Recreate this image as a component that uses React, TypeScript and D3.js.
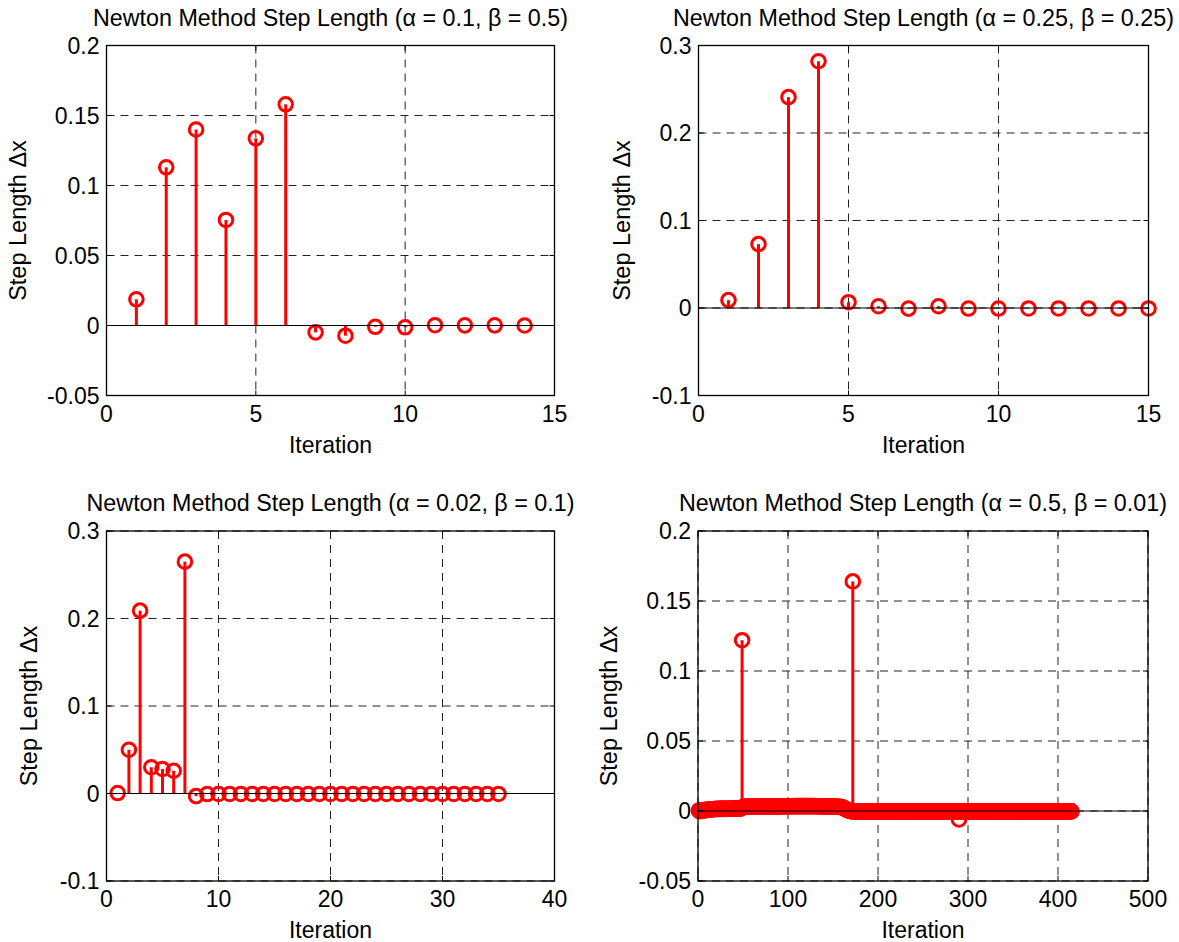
import React from 'react';
import * as d3 from 'd3';

// ---------- DATA ----------
const titles = [
  'Newton Method Step Length (α = 0.1, β = 0.5)',
  'Newton Method Step Length (α = 0.25, β = 0.25)',
  'Newton Method Step Length (α = 0.02, β = 0.1)',
  'Newton Method Step Length (α = 0.5, β = 0.01)',
];

const stepLength1 = [0.0187, 0.113, 0.140, 0.0754, 0.1337, 0.158, -0.0049, -0.0073, -0.0009, -0.0013, 0.0002, 0.0001, 0.0001, 0.0];

const stepLength2 = [0.009, 0.073, 0.241, 0.282, 0.0066, 0.002, -0.0007, 0.002, -0.0006, -0.0006, -0.0005, -0.0005, -0.0005, -0.0005, -0.0005];

const stepLength3 = [
  0.0005, 0.050, 0.209, 0.030, 0.028, 0.026, 0.265, -0.003, -0.0006, -0.0005,
  -0.0005, -0.0005, -0.0005, -0.0005, -0.0005, -0.0005, -0.0005, -0.0005, -0.0005, -0.0005,
  -0.0005, -0.0005, -0.0005, -0.0005, -0.0005, -0.0005, -0.0005, -0.0005, -0.0005, -0.0005,
  -0.0005, -0.0005, -0.0005, -0.0005, -0.0005,
];

// Panel 4: 415 iterations, read as segments of the dense band plus the isolated stems
const band4a = [
  0.0004, -0.0002, 0.0006, 0.0003, 0.0005, 0.0002, 0.0007, 0.0006, 0.0008, 0.0007,
  0.0009, 0.0010, 0.0011, 0.0012, 0.0012, 0.0013, 0.0013, 0.0014, 0.0014, 0.0014,
  0.0015, 0.0014, 0.0015, 0.0015, 0.0016, 0.0015, 0.0015, 0.0016, 0.0015, 0.0016,
  0.0016, 0.0015, 0.0016, 0.0016, 0.0017, 0.0016, 0.0016, 0.0017, 0.0016, 0.0017,
  0.0017, 0.0016, 0.0017, 0.0017, 0.0018, 0.0017, 0.0018, 0.0018,
];
const spike4a = 0.122;
const band4b = [
  0.0028, 0.0029, 0.0030, 0.0030, 0.0031, 0.0030, 0.0030, 0.0031, 0.0030, 0.0031,
  0.0030, 0.0031, 0.0031, 0.0030, 0.0031, 0.0032, 0.0031, 0.0031, 0.0032, 0.0031,
  0.0032, 0.0031, 0.0032, 0.0032, 0.0031, 0.0032, 0.0032, 0.0033, 0.0032, 0.0032,
  0.0033, 0.0032, 0.0033, 0.0032, 0.0033, 0.0033, 0.0032, 0.0033, 0.0033, 0.0033,
  0.0033, 0.0034, 0.0033, 0.0033, 0.0034, 0.0033, 0.0034, 0.0034, 0.0033, 0.0034,
  0.0034, 0.0034, 0.0033, 0.0034, 0.0034, 0.0035, 0.0034, 0.0034, 0.0035, 0.0034,
  0.0035, 0.0034, 0.0035, 0.0035, 0.0034, 0.0035, 0.0035, 0.0035, 0.0034, 0.0035,
  0.0035, 0.0035, 0.0034, 0.0035, 0.0035, 0.0034, 0.0035, 0.0034, 0.0035, 0.0034,
  0.0034, 0.0035, 0.0034, 0.0034, 0.0033, 0.0034, 0.0034, 0.0033, 0.0034, 0.0033,
  0.0033, 0.0033, 0.0032, 0.0033, 0.0032, 0.0032, 0.0032, 0.0031, 0.0032, 0.0031,
  0.0031, 0.0031, 0.0030, 0.0031, 0.0030, 0.0030, 0.0030, 0.0029, 0.0030, 0.0029,
];
const band4c = [0.0027, 0.0024, 0.0021, 0.0018, 0.0014, 0.0010, 0.0007, 0.0004, 0.0002, 0.0000, -0.0001, -0.0002];
const spike4b = 0.164;
const band4d = [
  -0.0003, -0.0003, -0.0004, -0.0003, -0.0003, -0.0003, -0.0004, -0.0003, -0.0003, -0.0003,
  -0.0003, -0.0004, -0.0003, -0.0003, -0.0003, -0.0003, -0.0004, -0.0003, -0.0003, -0.0003,
  -0.0003, -0.0003, -0.0004, -0.0003, -0.0003, -0.0003, -0.0003, -0.0004, -0.0003, -0.0003,
  -0.0003, -0.0003, -0.0003, -0.0004, -0.0003, -0.0003, -0.0003, -0.0003, -0.0004, -0.0003,
  -0.0003, -0.0003, -0.0003, -0.0003, -0.0004, -0.0003, -0.0003, -0.0003, -0.0003, -0.0003,
  -0.0004, -0.0003, -0.0003, -0.0003, -0.0003, -0.0003, -0.0004, -0.0003, -0.0003, -0.0003,
  -0.0003, -0.0003, -0.0003, -0.0004, -0.0003, -0.0003, -0.0003, -0.0003, -0.0003, -0.0004,
  -0.0003, -0.0003, -0.0003, -0.0003, -0.0003, -0.0003, -0.0004, -0.0003, -0.0003, -0.0003,
  -0.0003, -0.0003, -0.0003, -0.0003, -0.0004, -0.0003, -0.0003, -0.0003, -0.0003, -0.0003,
  -0.0003, -0.0004, -0.0003, -0.0003, -0.0003, -0.0003, -0.0003, -0.0003, -0.0004, -0.0003,
  -0.0003, -0.0003, -0.0003, -0.0003, -0.0003, -0.0004, -0.0003, -0.0003, -0.0003, -0.0003,
  -0.0003, -0.0003, -0.0004, -0.0003, -0.0003, -0.0003, -0.0003,
];
const dip4 = -0.006;
const band4e = [
  -0.0003, -0.0003, -0.0003, -0.0004, -0.0003, -0.0003, -0.0003, -0.0003, -0.0003, -0.0004,
  -0.0003, -0.0003, -0.0003, -0.0003, -0.0003, -0.0003, -0.0004, -0.0003, -0.0003, -0.0003,
  -0.0003, -0.0003, -0.0003, -0.0003, -0.0004, -0.0003, -0.0003, -0.0003, -0.0003, -0.0003,
  -0.0003, -0.0004, -0.0003, -0.0003, -0.0003, -0.0003, -0.0003, -0.0003, -0.0003, -0.0004,
  -0.0003, -0.0003, -0.0003, -0.0003, -0.0003, -0.0003, -0.0004, -0.0003, -0.0003, -0.0003,
  -0.0003, -0.0003, -0.0003, -0.0004, -0.0003, -0.0003, -0.0003, -0.0003, -0.0003, -0.0003,
  -0.0004, -0.0003, -0.0003, -0.0003, -0.0003, -0.0003, -0.0003, -0.0003, -0.0004, -0.0003,
  -0.0003, -0.0003, -0.0003, -0.0003, -0.0003, -0.0004, -0.0003, -0.0003, -0.0003, -0.0003,
  -0.0003, -0.0003, -0.0004, -0.0003, -0.0003, -0.0003, -0.0003, -0.0003, -0.0003, -0.0003,
  -0.0004, -0.0003, -0.0003, -0.0003, -0.0003, -0.0003, -0.0003, -0.0004, -0.0003, -0.0003,
  -0.0003, -0.0003, -0.0003, -0.0003, -0.0004, -0.0003, -0.0003, -0.0003, -0.0003, -0.0003,
  -0.0003, -0.0004, -0.0003, -0.0003, -0.0003, -0.0003, -0.0003, -0.0003, -0.0003, -0.0004,
  -0.0003, -0.0003, -0.0003, -0.0003, -0.0003,
];
const stepLength4 = [...band4a, spike4a, ...band4b, ...band4c, spike4b, ...band4d, dip4, ...band4e];

const xTicks1 = [0, 5, 10, 15];
const xTicks2 = [0, 5, 10, 15];
const xTicks3 = [0, 10, 20, 30, 40];
const xTicks4 = [0, 100, 200, 300, 400, 500];
const yTicksA = [-0.05, 0, 0.05, 0.1, 0.15, 0.2];
const yTicksB = [-0.1, 0, 0.1, 0.2, 0.3];

const xLabel = 'Iteration';
const yLabel = 'Step Length Δx';

// ---------- DRAWING ----------
const FONT = '"Liberation Sans", Arial, Helvetica, sans-serif';
const RED = '#ff0000';

type PanelProps = {
  title: string;
  values: number[];
  xTicks: number[];
  yTicks: number[];
  left: number;
  top: number;
  width: number;
  height: number;
  ylabelOffset: number;
};

function StemPanel({ title, values, xTicks, yTicks, left, top, width, height, ylabelOffset }: PanelProps) {
  const x = d3.scaleLinear().domain(d3.extent(xTicks) as [number, number]).range([left, left + width]);
  const y = d3.scaleLinear().domain(d3.extent(yTicks) as [number, number]).range([top + height, top]);
  const y0 = y(0);
  const bottom = top + height;
  const right = left + width;
  const fmt = (v: number) => String(Number(v.toFixed(3)));
  const tickLen = 5;
  return (
    <g>
      {/* grid */}
      {xTicks.map((t) => (
        <line key={'gx' + t} x1={x(t)} x2={x(t)} y1={top} y2={bottom} stroke="#222" strokeWidth={1} strokeDasharray="8,6" />
      ))}
      {yTicks.map((t) => (
        <line key={'gy' + t} x1={left} x2={right} y1={y(t)} y2={y(t)} stroke="#222" strokeWidth={1} strokeDasharray="8,6" />
      ))}
      {/* stems */}
      {values.map((v, i) => (
        <line key={'s' + i} x1={x(i + 1)} x2={x(i + 1)} y1={y0} y2={y(v)} stroke={RED} strokeWidth={3} />
      ))}
      {values.map((v, i) => (
        <circle key={'c' + i} cx={x(i + 1)} cy={y(v)} r={6.8} fill="none" stroke={RED} strokeWidth={3} />
      ))}
      {/* baseline */}
      <line x1={left} x2={right} y1={y0} y2={y0} stroke="#000" strokeWidth={1.2} />
      {/* ticks */}
      {xTicks.map((t) => (
        <g key={'tx' + t}>
          <line x1={x(t)} x2={x(t)} y1={bottom} y2={bottom - tickLen} stroke="#000" strokeWidth={1} />
          <line x1={x(t)} x2={x(t)} y1={top} y2={top + tickLen} stroke="#000" strokeWidth={1} />
        </g>
      ))}
      {yTicks.map((t) => (
        <g key={'ty' + t}>
          <line x1={left} x2={left + tickLen} y1={y(t)} y2={y(t)} stroke="#000" strokeWidth={1} />
          <line x1={right} x2={right - tickLen} y1={y(t)} y2={y(t)} stroke="#000" strokeWidth={1} />
        </g>
      ))}
      {/* box */}
      <rect x={left} y={top} width={width} height={height} fill="none" stroke="#000" strokeWidth={1.3} />
      {/* tick labels */}
      {xTicks.map((t) => (
        <text key={'lx' + t} x={x(t)} y={bottom + 26} textAnchor="middle" fontSize={23} fontFamily={FONT} fill="#000">
          {fmt(t)}
        </text>
      ))}
      {yTicks.map((t) => (
        <text key={'ly' + t} x={left - 7} y={y(t)} dy="0.36em" textAnchor="end" fontSize={23} fontFamily={FONT} fill="#000">
          {fmt(t)}
        </text>
      ))}
      {/* labels */}
      <text x={(left + right) / 2} y={bottom + 57} textAnchor="middle" fontSize={23} fontFamily={FONT} fill="#000">
        {xLabel}
      </text>
      <text
        transform={`translate(${left - ylabelOffset},${(top + bottom) / 2}) rotate(-90)`}
        textAnchor="middle"
        fontSize={23.5}
        fontFamily={FONT}
        fill="#000"
      >
        {yLabel}
      </text>
      <text x={(left + right) / 2} y={top - 20} textAnchor="middle" fontSize={23.3} fontFamily={FONT} fill="#000">
        {title}
      </text>
    </g>
  );
}

export default function App() {
  return (
    <svg
      width={1179}
      height={942}
      style={{ position: 'absolute', left: 0, top: 0, display: 'block', background: '#fff' }}
    >
      <rect width={1179} height={942} fill="#fff" />
      <StemPanel title={titles[0]} values={stepLength1} xTicks={xTicks1} yTicks={yTicksA}
        left={106.5} top={45.5} width={448} height={350} ylabelOffset={81} />
      <StemPanel title={titles[1]} values={stepLength2} xTicks={xTicks2} yTicks={yTicksB}
        left={698.5} top={45.5} width={450} height={350} ylabelOffset={68.5} />
      <StemPanel title={titles[2]} values={stepLength3} xTicks={xTicks3} yTicks={yTicksB}
        left={106.5} top={531} width={448} height={350} ylabelOffset={69.5} />
      <StemPanel title={titles[3]} values={stepLength4} xTicks={xTicks4} yTicks={yTicksA}
        left={698} top={531} width={450} height={350} ylabelOffset={81} />
    </svg>
  );
}
